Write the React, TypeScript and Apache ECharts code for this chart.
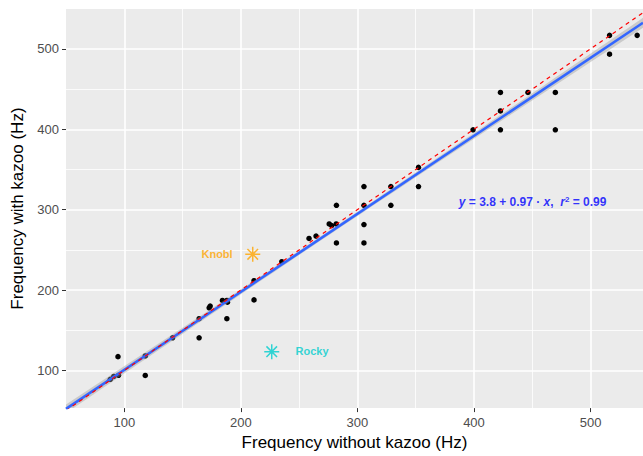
import React, { useEffect, useRef } from "react";
import * as echarts from "echarts";

// ---- data ----
const withoutKazoo = [88, 91, 95, 94.6, 118, 118, 141.4, 164.2, 164.2, 172.8, 173.7, 184.2, 188, 188.5, 188, 211.3, 211.3, 235.1, 258.5, 264.5, 275.8, 277.9, 281.8, 282, 282, 305.6, 305.6, 305.6, 305.6, 328.7, 328.7, 352.4, 352.4, 399.2, 422.7, 422.7, 422.7, 446.3, 469.8, 469.8, 516.3, 516.3, 540];
const withKazoo = [89, 92.6, 94, 117.2, 118.1, 93.8, 140.6, 140.6, 164.4, 178, 180.1, 187.1, 187.1, 185, 164.4, 211.7, 187.8, 235.3, 264.2, 267.2, 282.3, 280.2, 282.3, 305.4, 258.6, 328.8, 305.4, 281.5, 258.6, 328.8, 305.4, 352.6, 328.8, 399.4, 445.8, 422.8, 399.4, 445.8, 445.8, 399.4, 516.8, 493.4, 516.8];

const specialNames = ["Knobl", "Rocky"];
const specialX = [210.2, 226.5];
const specialY = [244.5, 123.4];
const specialColors = ["#FFA500", "#00CDCD"];
const labelX = [193.4, 246.5];
const labelY = [245.3, 124.6];

const INTERCEPT = 3.8;
const SLOPE = 0.97;
const R2 = 0.99;
const eqX = 450.3;
const eqY = 309.4;

const X_MIN = 50;
const X_MAX = 545;
const Y_MIN = 53.2;
const Y_MAX = 549.6;
const majorTicks = [100, 200, 300, 400, 500];
const minorX = [150, 250, 350, 450];
const minorY = [150, 250, 350, 450];

const STAR =
  "path://M-1,-10L1,-10L1,10L-1,10Z M-10,-1L10,-1L10,1L-10,1Z M-6.36,-7.78L7.78,6.36L6.36,7.78L-7.78,-6.36Z M-7.78,6.36L6.36,-7.78L7.78,-6.36L-6.36,7.78Z";

function fitStats() {
  const n = withoutKazoo.length;
  const mx = withoutKazoo.reduce((a, b) => a + b, 0) / n;
  let sxx = 0;
  let sse = 0;
  for (let i = 0; i < n; i++) {
    sxx += (withoutKazoo[i] - mx) ** 2;
    sse += (withKazoo[i] - INTERCEPT - SLOPE * withoutKazoo[i]) ** 2;
  }
  const s = Math.sqrt(sse / (n - 2));
  return { n, mx, sxx, s };
}

export default function App() {
  const ref = useRef<HTMLDivElement>(null);
  useEffect(() => {
    if (!ref.current) return;
    const chart = echarts.init(ref.current, undefined, { renderer: "svg" });
    const f = fitStats();
    const t = 0.95;
    const steps = 80;
    const bandX: number[] = [];
    for (let i = 0; i <= steps; i++) bandX.push(X_MIN + ((X_MAX - X_MIN) * i) / steps);
    const se = (x: number) => t * f.s * Math.sqrt(1 / f.n + (x - f.mx) ** 2 / f.sxx);
    const upper = bandX.map((x) => INTERCEPT + SLOPE * x + se(x));
    const lower = bandX.map((x) => INTERCEPT + SLOPE * x - se(x));

    const axisCommon = {
      type: "value" as const,
      scale: true,
      axisLine: { show: false },
      minorTick: { show: false },
    };

    chart.setOption({
      animation: false,
      textStyle: { fontFamily: "Liberation Sans, Arial, sans-serif" },
      grid: {
        left: 66,
        right: 0,
        top: 9,
        bottom: 44,
        show: true,
        backgroundColor: "#EBEBEB",
        borderWidth: 0,
      },
      xAxis: [
        {
          ...axisCommon,
          min: X_MIN,
          max: X_MAX,
          name: "Frequency without kazoo (Hz)",
          nameLocation: "middle",
          nameGap: 21,
          nameTextStyle: { fontSize: 17, color: "#000" },
          axisTick: { show: true, length: 4, lineStyle: { color: "#333", width: 1 }, customValues: majorTicks },
          axisLabel: { customValues: majorTicks, color: "#4D4D4D", fontSize: 13, margin: 8 },
          splitLine: { show: true, lineStyle: { color: "#FFFFFF", width: 1.6 } },
        },
        {
          ...axisCommon,
          min: X_MIN,
          max: X_MAX,
          axisTick: { show: false, customValues: minorX },
          axisLabel: { show: false, customValues: minorX },
          splitLine: { show: true, lineStyle: { color: "#FFFFFF", width: 0.8 } },
        },
      ],
      yAxis: [
        {
          ...axisCommon,
          min: Y_MIN,
          max: Y_MAX,
          name: "Frequency with kazoo (Hz)",
          nameLocation: "middle",
          nameGap: 38,
          nameTextStyle: { fontSize: 17, color: "#000" },
          axisTick: { show: true, length: 4, lineStyle: { color: "#333", width: 1 }, customValues: majorTicks },
          axisLabel: { customValues: majorTicks, color: "#4D4D4D", fontSize: 13, margin: 7 },
          splitLine: { show: true, lineStyle: { color: "#FFFFFF", width: 1.6 } },
        },
        {
          ...axisCommon,
          min: Y_MIN,
          max: Y_MAX,
          axisTick: { show: false, customValues: minorY },
          axisLabel: { show: false, customValues: minorY },
          splitLine: { show: true, lineStyle: { color: "#FFFFFF", width: 0.8 } },
        },
      ],
      series: [
        {
          type: "scatter",
          data: withoutKazoo.map((x, i) => [x, withKazoo[i]]),
          symbol: "circle",
          symbolSize: 5.5,
          itemStyle: { color: "#000", opacity: 1 },
          silent: true,
          z: 2,
        },
        {
          type: "custom",
          clip: true,
          data: [[X_MIN, Y_MIN]],
          renderItem: (_p: any, api: any) => {
            const pts: number[][] = [];
            bandX.forEach((x, i) => pts.push(api.coord([x, upper[i]])));
            for (let i = bandX.length - 1; i >= 0; i--) pts.push(api.coord([bandX[i], lower[i]]));
            return {
              type: "polygon",
              shape: { points: pts },
              style: { fill: "rgba(153,153,153,0.4)" },
            };
          },
          silent: true,
          z: 3,
        },
        {
          type: "line",
          data: [X_MIN, X_MAX].map((x) => [x, INTERCEPT + SLOPE * x]),
          symbol: "none",
          lineStyle: { color: "#3366FF", width: 2.6 },
          silent: true,
          z: 4,
        },
        {
          type: "line",
          data: [X_MIN, X_MAX].map((x) => [x, x]),
          symbol: "none",
          clip: true,
          lineStyle: { color: "#FF0000", width: 1.2, type: [4, 4] },
          silent: true,
          z: 5,
        },
        ...specialNames.map((name, i) => ({
          type: "scatter",
          data: [[specialX[i], specialY[i]]],
          symbol: STAR,
          symbolSize: 15,
          itemStyle: { color: specialColors[i] },
          silent: true,
          z: 6,
        })),
        ...specialNames.map((name, i) => ({
          type: "scatter",
          data: [[labelX[i], labelY[i]]],
          symbol: "circle",
          symbolSize: 1,
          itemStyle: { color: "rgba(0,0,0,0)" },
          label: {
            show: true,
            formatter: name,
            position: i === 0 ? "left" : "right",
            distance: 0,
            color: specialColors[i],
            fontSize: 11,
            fontWeight: "bold",
          },
          silent: true,
          z: 7,
        })),
        {
          type: "scatter",
          data: [[eqX, eqY]],
          symbol: "circle",
          symbolSize: 1,
          itemStyle: { color: "rgba(0,0,0,0)" },
          label: {
            show: true,
            position: "inside",
            formatter: `{i|y}{n| = ${INTERCEPT} + ${SLOPE} · }{i|x}{n|,  }{i|r}{s|2}{n| = ${R2}}`,
            rich: {
              i: { fontStyle: "italic", fontWeight: "bold", color: "#0000FF", fontSize: 12 },
              n: { fontWeight: "bold", color: "#0000FF", fontSize: 12 },
              s: { fontWeight: "bold", color: "#0000FF", fontSize: 8, verticalAlign: "top", padding: [0, 0, 6, 0] },
            },
          },
          silent: true,
          z: 7,
        },
      ],
    });
    return () => chart.dispose();
  }, []);
  return <div ref={ref} style={{ width: 643, height: 456, position: "absolute", left: 0, top: 0 }} />;
}
